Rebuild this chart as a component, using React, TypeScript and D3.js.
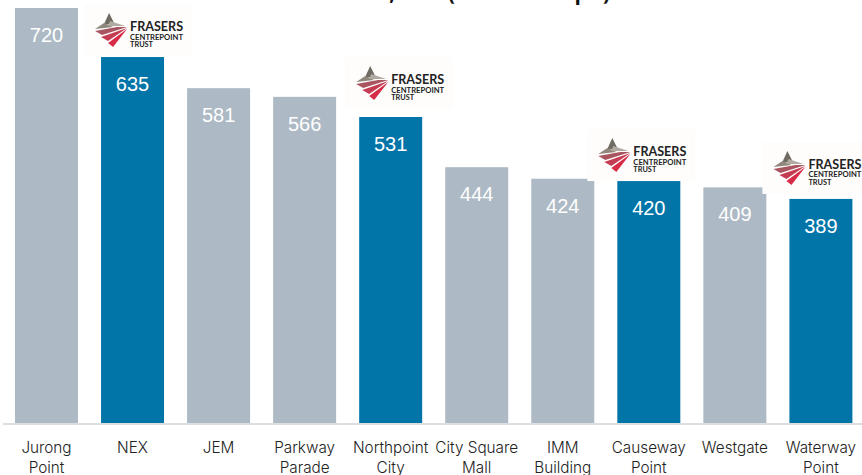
import React from "react";
import * as d3 from "d3";

const categories = [
  ["Jurong", "Point"], ["NEX"], ["JEM"], ["Parkway", "Parade"], ["Northpoint", "City"],
  ["City Square", "Mall"], ["IMM", "Building"], ["Causeway", "Point"], ["Westgate"], ["Waterway", "Point"],
];
const values = [720, 635, 581, 566, 531, 444, 424, 420, 409, 389];
const highlighted = ["NEX", "Northpoint", "Causeway", "Waterway"];
const logoAnchors = [
  { name: "NEX", dx: -17, dy: -53 },
  { name: "Northpoint", dx: -14, dy: -60 },
  { name: "Causeway", dx: -30, dy: -52 },
  { name: "Waterway", dx: -27, dy: -57 },
];
const titleText = "Net Lettable Area, NLA (thousand sq ft)";

const W = 862, H = 475;
const GREY = "#adb9c4", BLUE = "#0175a8";

function Logo({ x, y }: { x: number; y: number }) {
  return (
    <g transform={`translate(${x},${y})`}>
      <rect x={0} y={0} width={108} height={52} fill="#fefdfc" />
      <path d="M25 9 L20 20 L31 21 Z" fill="#6f6a62" />
      <path d="M20 19 L11 25 L29 23 Z" fill="#8f877c" />
      <path d="M26 17 L41 22 L24 22 Z" fill="#b0aaa0" />
      <path d="M11 27 L33 23 L43 23 L18 31 Z" fill="#a85560" />
      <path d="M17 33 L43 24 L24 37 Z" fill="#c43c52" />
      <path d="M24 39 L43 25 L29 43 Z" fill="#d62c48" />
      <text x={46} y={27} fontFamily="Lato" fontWeight={700} fontSize={12.5} textLength={53} lengthAdjust="spacingAndGlyphs" fill="#222">FRASERS</text>
      <text x={46} y={35.5} fontFamily="Lato" fontWeight={700} fontSize={7.5} textLength={53} lengthAdjust="spacingAndGlyphs" fill="#222">CENTREPOINT</text>
      <text x={46} y={43} fontFamily="Lato" fontWeight={700} fontSize={7} textLength={23} lengthAdjust="spacingAndGlyphs" fill="#222">TRUST</text>
    </g>
  );
}

export default function App() {
  const names = categories.map((c) => c[0]);
  const x = d3.scaleBand<string>().domain(names).range([15, 852.4]).paddingInner(0.2679).paddingOuter(0);
  const y = d3.scaleLinear().domain([0, 720]).range([423.3, 8]);
  return (
    <svg width={W} height={H} style={{ position: "absolute", left: 0, top: 0, background: "#fff" }}>
      <text x={409} y={-0.5} textAnchor="middle" fontFamily="Noto Sans" fontWeight={700} fontSize={20.5} fill="#111">{titleText}</text>
      {names.map((n, i) => (
        <rect key={n} x={x(n)} y={y(values[i])} width={x.bandwidth()} height={y(0) - y(values[i])}
          fill={highlighted.includes(n) ? BLUE : GREY} />
      ))}
      <line x1={3} x2={W} y1={424} y2={424} stroke="#dcdfe1" strokeWidth={2} />
      {names.map((n, i) => (
        <text key={n} x={x(n)! + x.bandwidth() / 2} y={y(values[i]) + 34} textAnchor="middle"
          fontFamily="Liberation Sans" fontSize={20} fill="#fff">{values[i]}</text>
      ))}
      {categories.map((c) => (
        <text key={c[0]} textAnchor="middle" fontFamily="Inter" fontWeight={300} fontSize={15.3} fill="#222">
          {c.map((l, j) => (
            <tspan key={l} x={x(c[0])! + x.bandwidth() / 2} y={453 + j * 20}>{l}</tspan>
          ))}
        </text>
      ))}
      {logoAnchors.map((a) => (
        <Logo key={a.name} x={x(a.name)! + a.dx} y={y(values[names.indexOf(a.name)]) + a.dy} />
      ))}
    </svg>
  );
}
